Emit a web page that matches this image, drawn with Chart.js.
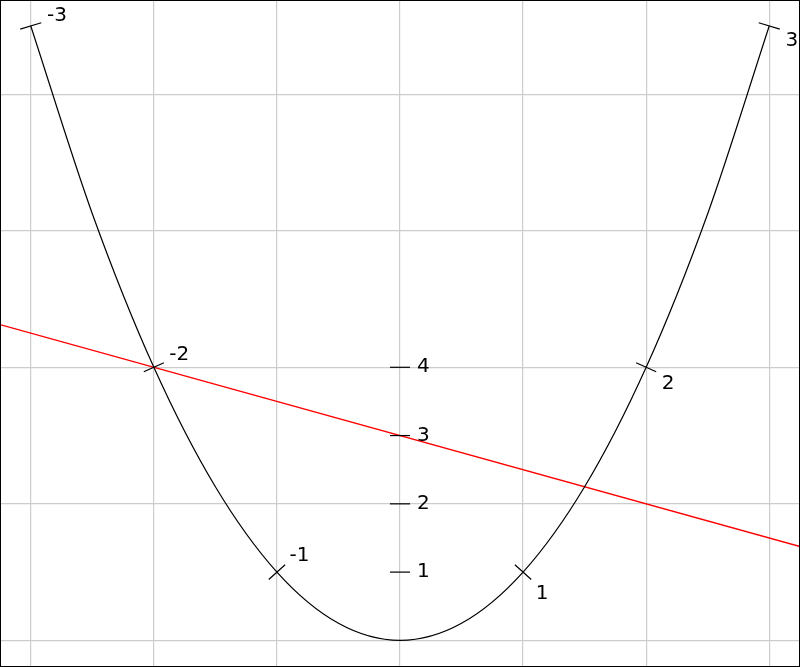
<!DOCTYPE html>
<html lang="en">
<head>
    <meta charset="UTF-8">
    <title>Parabola</title>
    <script src="https://cdn.jsdelivr.net/npm/chart.js"></script>
    <style>
        body { margin: 0; background: #fff; }
    </style>
</head>
<body>
    <canvas id="myChart" width="800" height="667"></canvas>
    <script>
        // curve y = x^2, read at half steps
        const curveX = [-3, -2.5, -2, -1.5, -1, -0.5, 0, 0.5, 1, 1.5, 2, 2.5, 3];
        const curveY = [9, 6.25, 4, 2.25, 1, 0.25, 0, 0.25, 1, 2.25, 4, 6.25, 9];
        const markedX = [-3, -2, -1, 1, 2, 3];
        // red line
        const lineX = [-3.25, 3.25];
        const lineY = [4.625, 1.375];
        // labels on the vertical axis
        const axisTicks = [1, 2, 3, 4];
        const gridX = [-3, -2, -1, 0, 1, 2, 3];
        const gridY = [0, 2, 4, 6, 8];

        const marks = {
            id: 'marks',
            afterDatasetsDraw(chart) {
                const ctx = chart.ctx;
                const x = chart.scales.x, y = chart.scales.y;
                const px = i => [x.getPixelForValue(curveX[i]), y.getPixelForValue(curveY[i])];
                const last = curveX.length - 1;
                ctx.save();
                ctx.strokeStyle = '#000';
                ctx.fillStyle = '#000';
                ctx.lineWidth = 1.2;
                ctx.font = '20px "DejaVu Sans"';
                ctx.textAlign = 'left';
                markedX.forEach(t => {
                    const i = curveX.indexOf(t);
                    const p = px(i);
                    let tx, ty;
                    if (i === 0) {
                        const a = px(1), b = px(2);
                        tx = -3 * p[0] + 4 * a[0] - b[0];
                        ty = -3 * p[1] + 4 * a[1] - b[1];
                    } else if (i === last) {
                        const a = px(last - 1), b = px(last - 2);
                        tx = 3 * p[0] - 4 * a[0] + b[0];
                        ty = 3 * p[1] - 4 * a[1] + b[1];
                    } else {
                        const a = px(i - 1), b = px(i + 1);
                        tx = b[0] - a[0];
                        ty = b[1] - a[1];
                    }
                    const len = Math.hypot(tx, ty);
                    let nx = ty / len, ny = -tx / len;
                    if (nx < 0) { nx = -nx; ny = -ny; }
                    ctx.beginPath();
                    ctx.moveTo(p[0] - nx * 11, p[1] - ny * 11);
                    ctx.lineTo(p[0] + nx * 11, p[1] + ny * 11);
                    ctx.stroke();
                    ctx.textBaseline = ny < 0 ? 'alphabetic' : 'top';
                    ctx.fillText(String(t), p[0] + nx * 17, p[1] + ny * 17);
                });

                const x0 = x.getPixelForValue(0);
                ctx.textBaseline = 'middle';
                axisTicks.forEach(v => {
                    const py = y.getPixelForValue(v);
                    ctx.beginPath();
                    ctx.moveTo(x0 - 10, py);
                    ctx.lineTo(x0 + 10, py);
                    ctx.stroke();
                    ctx.fillText(String(v), x0 + 17, py);
                });
                ctx.restore();
            },
            afterDraw(chart) {
                const ctx = chart.ctx;
                ctx.save();
                ctx.strokeStyle = '#000';
                ctx.lineWidth = 2;
                ctx.strokeRect(0, 0, chart.width, chart.height);
                ctx.restore();
            }
        };

        const ctx = document.getElementById('myChart').getContext('2d');
        new Chart(ctx, {
            type: 'line',
            data: {
                datasets: [{
                    data: curveX.map((v, i) => ({ x: v, y: curveY[i] })),
                    borderColor: '#000',
                    borderWidth: 1.2,
                    pointRadius: 0,
                    cubicInterpolationMode: 'monotone',
                    fill: false
                }, {
                    data: lineX.map((v, i) => ({ x: v, y: lineY[i] })),
                    borderColor: '#ff0000',
                    borderWidth: 1.4,
                    pointRadius: 0,
                    fill: false
                }]
            },
            options: {
                responsive: false,
                animation: false,
                layout: { padding: 0 },
                plugins: { legend: { display: false }, tooltip: { enabled: false } },
                scales: {
                    x: {
                        type: 'linear',
                        min: -3.25,
                        max: 3.25,
                        afterBuildTicks: s => { s.ticks = gridX.map(v => ({ value: v })); },
                        ticks: { display: false },
                        border: { display: false },
                        grid: { color: '#cccccc', lineWidth: 1.2, drawTicks: false }
                    },
                    y: {
                        type: 'linear',
                        min: -0.39,
                        max: 9.38,
                        afterBuildTicks: s => { s.ticks = gridY.map(v => ({ value: v })); },
                        ticks: { display: false },
                        border: { display: false },
                        grid: { color: '#cccccc', lineWidth: 1.2, drawTicks: false }
                    }
                }
            },
            plugins: [marks]
        });
    </script>
</body>
</html>
